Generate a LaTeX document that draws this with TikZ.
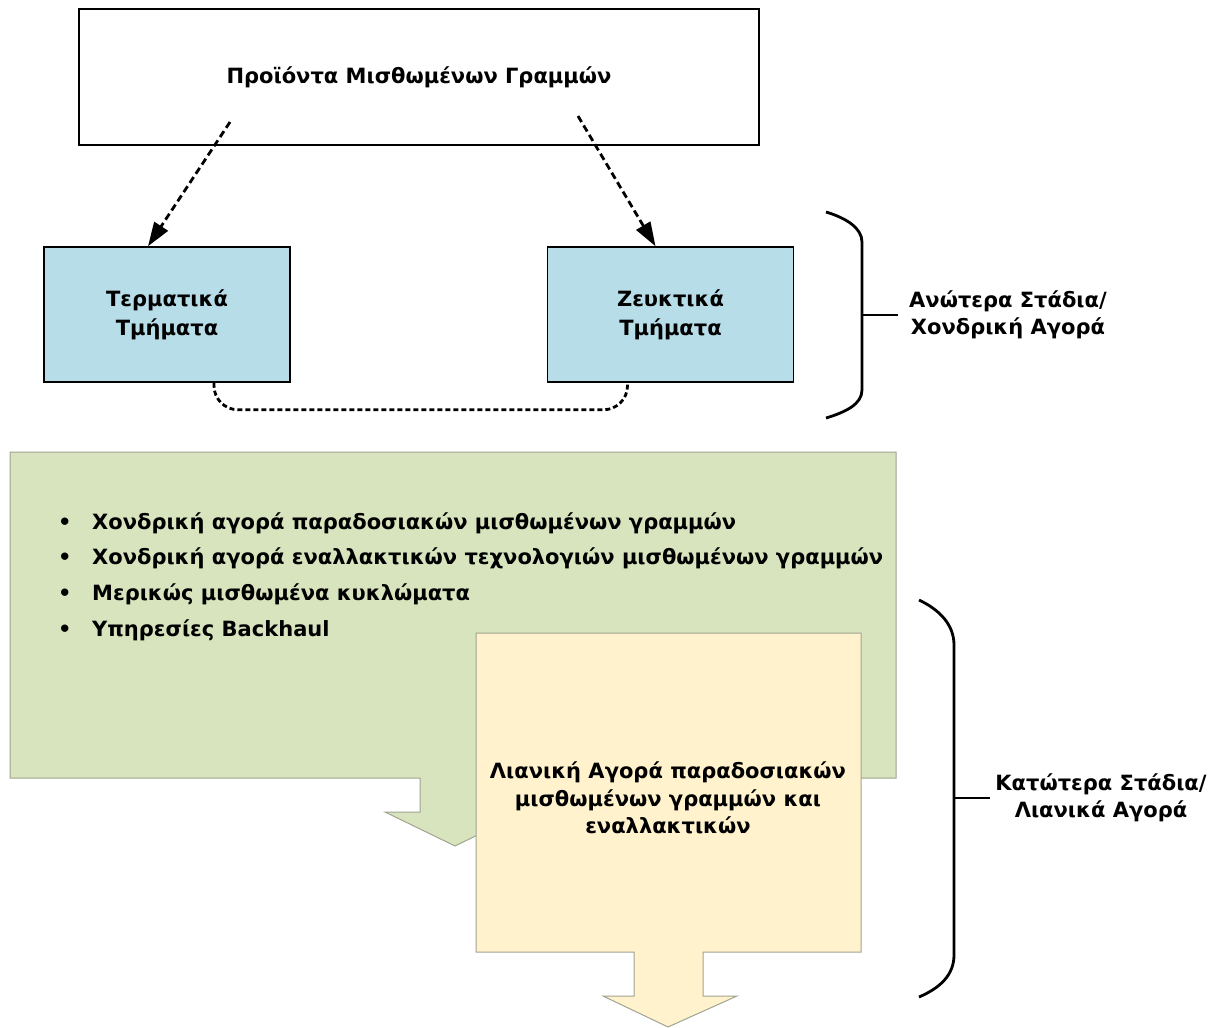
\documentclass[tikz,border=0pt]{standalone}
\usepackage{fontspec}
\setmainfont{DejaVu Sans}
\usetikzlibrary{positioning,arrows.meta}
\definecolor{segblue}{HTML}{B7DDE8}
\definecolor{wholegreen}{HTML}{D7E4BD}
\definecolor{retailyellow}{HTML}{FFF2CC}
\definecolor{calloutedge}{HTML}{9FA593}

\begin{document}
\begin{tikzpicture}[x=1pt, y=-1pt,
    txt/.style={font=\fontsize{21}{29}\selectfont\bfseries, align=center},
    segment/.style={txt, draw=black, line width=1.5pt, fill=segblue, minimum width=246pt, minimum height=135pt},
    lease/.style={draw, dash pattern=on 7pt off 4pt, line width=2.8pt, -{Triangle[length=24pt,width=16pt]}},
    link/.style={draw, dash pattern=on 5pt off 3pt, line width=2.8pt, rounded corners=24pt},
    brace/.style={draw, line width=2.8pt},
    callout/.style={draw=calloutedge, line width=1pt}]
    \useasboundingbox[fill=white] (0,0) rectangle (1224,1028);

    % upper stage
    \node[txt, draw=black, line width=1.5pt, minimum width=680pt, minimum height=136pt] (products) at (419,77) {Προϊόντα Μισθωμένων Γραμμών};
    \node[segment] (term) at (167,314.5) {Τερματικά\\Τμήματα};
    \node[segment] (trunk) at (670.5,314.5) {Ζευκτικά\\Τμήματα};

    \coordinate (p1) at (230,122);
    \coordinate (p2) at (578,116);
    \path[lease] (p1) -- ([xshift=-19pt]term.north);
    \path[lease] (p2) -- ([xshift=-15pt]trunk.north);
    \path[link] ([xshift=47pt]term.south) -- ++(0,27) -| ([xshift=-43pt]trunk.south);

    % wholesale callout
    \draw[callout, fill=wholegreen] (10,452) -- (896,452) -- (896,778) -- (490,778) -- (490,812) -- (525,812)
        -- (455,846) -- (385,812) -- (420,812) -- (420,778) -- (10,778) -- cycle;
    \foreach \txt [count=\i, evaluate=\i as \yy using 523+(\i-1)*35.7] in
        {Χονδρική αγορά παραδοσιακών μισθωμένων γραμμών,
         Χονδρική αγορά εναλλακτικών τεχνολογιών μισθωμένων γραμμών,
         Μερικώς μισθωμένα κυκλώματα,
         Υπηρεσίες Backhaul}
        \node[txt, anchor=west, inner sep=0pt] (w\i) at (58,\yy) {\makebox[34pt][l]{•}\txt};

    % retail callout
    \draw[callout, fill=retailyellow] (476,633) -- (861,633) -- (861,952) -- (703,952) -- (703,996) -- (737,996)
        -- (668,1027) -- (603,996) -- (634,996) -- (634,952) -- (476,952) -- cycle;
    \node[txt, font=\fontsize{21}{27.5}\selectfont\bfseries] (retail) at (668,798) {Λιανική Αγορά παραδοσιακών\\μισθωμένων γραμμών και\\εναλλακτικών};

    % braces
    \draw[brace] (826,212) .. controls (846,218) and (862,228) .. (862,242) -- (862,390)
        .. controls (862,404) and (846,412) .. (826,418);
    \coordinate (b1) at (862,315);
    \draw[brace] (b1) -- ++(36,0);
    \node[txt, font=\fontsize{21}{27}\selectfont\bfseries] (upper) at (1008,315) {Ανώτερα Στάδια/\\Χονδρική Αγορά};

    \draw[brace] (919,600) .. controls (940,610) and (954,625) .. (954,645) -- (954,955)
        .. controls (954,975) and (940,988) .. (919,997);
    \coordinate (b2) at (954,798);
    \draw[brace] (b2) -- ++(36,0);
    \node[txt, font=\fontsize{21}{27}\selectfont\bfseries] (lower) at (1101,798) {Κατώτερα Στάδια/\\Λιανικά Αγορά};
\end{tikzpicture}
\end{document}
